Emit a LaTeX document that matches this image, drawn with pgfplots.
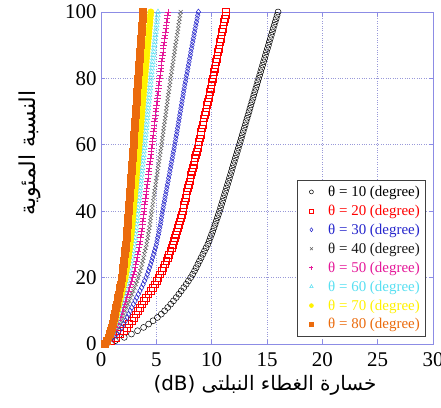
\documentclass[border=0pt]{standalone}
\usepackage{fontspec}
\setmainfont{Liberation Serif}
\newfontfamily\arabicfont[Script=Arabic]{DejaVu Sans}
\TeXXeTstate=1
\usepackage{pgfplots}
\pgfplotsset{compat=1.18}
\usepackage{pgfplotstable}

\definecolor{axc}{rgb}{0.55,0.55,0.9}
\definecolor{gridc}{rgb}{0.6,0.6,0.85}
\definecolor{c10}{rgb}{0,0,0}
\definecolor{c20}{rgb}{1,0,0}
\definecolor{c30}{rgb}{0.15,0.15,0.8}
\definecolor{c40}{rgb}{0.1,0.1,0.1}
\definecolor{c50}{rgb}{0.9,0.1,0.6}
\definecolor{c60}{rgb}{0.35,0.88,0.95}
\definecolor{c70}{rgb}{1,0.95,0}
\definecolor{c80}{rgb}{0.92,0.42,0.05}

\pgfplotstableread{
y   a     b     c     d     e     f     g     h
0   0.50  0.35  0.35  0.35  0.35  0.35  0.35  0.35
1   1.30  0.90  0.77  0.69  0.64  0.59  0.56  0.52
2   2.10  1.34  1.11  0.97  0.86  0.78  0.72  0.66
3   2.75  1.72  1.41  1.21  1.06  0.95  0.87  0.78
4   3.30  2.05  1.66  1.41  1.23  1.09  0.99  0.88
5   3.85  2.32  1.87  1.58  1.38  1.21  1.10  0.97
6   4.30  2.54  2.04  1.72  1.49  1.31  1.18  1.04
7   4.70  2.76  2.21  1.86  1.60  1.41  1.26  1.11
8   5.10  2.98  2.38  1.99  1.72  1.50  1.35  1.18
9   5.45  3.14  2.50  2.10  1.80  1.57  1.41  1.23
10  5.75  3.31  2.63  2.20  1.89  1.65  1.47  1.28
11  6.03  3.50  2.78  2.32  1.99  1.73  1.55  1.34
12  6.30  3.69  2.93  2.44  2.09  1.81  1.62  1.40
13  6.55  3.88  3.08  2.56  2.19  1.90  1.69  1.46
14  6.80  4.07  3.22  2.68  2.29  1.98  1.76  1.52
15  7.03  4.27  3.37  2.80  2.39  2.07  1.84  1.58
16  7.25  4.46  3.52  2.92  2.49  2.15  1.91  1.64
17  7.48  4.65  3.67  3.04  2.59  2.24  1.98  1.70
18  7.70  4.84  3.81  3.16  2.69  2.32  2.05  1.76
19  7.90  5.01  3.94  3.26  2.78  2.39  2.12  1.82
20  8.10  5.17  4.07  3.36  2.86  2.46  2.18  1.87
21  8.28  5.32  4.18  3.45  2.93  2.52  2.23  1.91
22  8.45  5.46  4.28  3.54  3.00  2.58  2.28  1.95
23  8.60  5.62  4.39  3.63  3.07  2.64  2.33  2.00
24  8.75  5.77  4.49  3.71  3.14  2.70  2.38  2.04
25  8.90  5.89  4.58  3.78  3.20  2.75  2.43  2.08
26  9.05  6.00  4.66  3.84  3.26  2.80  2.47  2.11
27  9.20  6.13  4.75  3.91  3.32  2.85  2.51  2.15
28  9.35  6.25  4.83  3.98  3.37  2.89  2.55  2.18
29  9.50  6.37  4.92  4.05  3.43  2.94  2.59  2.22
30  9.65  6.49  5.00  4.12  3.49  2.99  2.63  2.25
31  9.77  6.59  5.06  4.17  3.53  3.03  2.66  2.28
32  9.88  6.69  5.12  4.22  3.57  3.06  2.69  2.30
33  9.99  6.78  5.19  4.27  3.62  3.10  2.73  2.33
34  10.10 6.87  5.25  4.32  3.66  3.13  2.76  2.35
35  10.21 6.96  5.31  4.37  3.70  3.17  2.79  2.38
36  10.31 7.05  5.37  4.42  3.74  3.20  2.82  2.40
37  10.41 7.13  5.42  4.46  3.77  3.23  2.84  2.42
38  10.51 7.20  5.46  4.49  3.80  3.25  2.86  2.44
39  10.61 7.28  5.51  4.54  3.84  3.28  2.89  2.46
40  10.71 7.36  5.56  4.58  3.87  3.31  2.91  2.48
41  10.80 7.43  5.62  4.63  3.91  3.34  2.94  2.50
42  10.89 7.50  5.67  4.67  3.94  3.37  2.96  2.52
43  10.98 7.57  5.73  4.71  3.98  3.41  2.99  2.55
44  11.07 7.64  5.78  4.75  4.02  3.44  3.02  2.57
45  11.16 7.71  5.84  4.80  4.06  3.47  3.05  2.59
46  11.25 7.78  5.89  4.84  4.09  3.50  3.07  2.61
47  11.34 7.86  5.95  4.89  4.13  3.53  3.10  2.64
48  11.43 7.93  6.00  4.93  4.16  3.56  3.13  2.66
49  11.52 8.00  6.06  4.98  4.20  3.59  3.16  2.68
50  11.61 8.07  6.11  5.02  4.24  3.62  3.18  2.70
51  11.70 8.14  6.17  5.07  4.28  3.66  3.21  2.73
52  11.79 8.21  6.22  5.11  4.31  3.69  3.23  2.75
53  11.87 8.28  6.28  5.16  4.35  3.72  3.26  2.77
54  11.96 8.35  6.33  5.20  4.39  3.75  3.29  2.79
55  12.05 8.43  6.39  5.25  4.43  3.78  3.32  2.82
56  12.14 8.50  6.44  5.29  4.46  3.81  3.34  2.84
57  12.23 8.57  6.50  5.34  4.50  3.84  3.37  2.86
58  12.32 8.64  6.55  5.38  4.53  3.87  3.40  2.88
59  12.41 8.71  6.61  5.43  4.57  3.91  3.43  2.91
60  12.50 8.78  6.66  5.47  4.61  3.94  3.45  2.93
61  12.59 8.85  6.71  5.51  4.65  3.97  3.48  2.95
62  12.68 8.91  6.76  5.55  4.68  3.99  3.50  2.97
63  12.76 8.98  6.82  5.59  4.71  4.02  3.53  2.99
64  12.85 9.04  6.87  5.63  4.74  4.05  3.55  3.01
65  12.94 9.11  6.92  5.67  4.78  4.08  3.58  3.03
66  13.03 9.17  6.97  5.71  4.81  4.11  3.60  3.05
67  13.11 9.24  7.02  5.76  4.85  4.14  3.63  3.07
68  13.20 9.31  7.07  5.80  4.88  4.17  3.65  3.09
69  13.29 9.38  7.12  5.84  4.92  4.20  3.68  3.11
70  13.38 9.44  7.17  5.88  4.95  4.22  3.70  3.13
71  13.46 9.51  7.22  5.92  4.99  4.25  3.73  3.16
72  13.55 9.57  7.27  5.96  5.02  4.28  3.75  3.18
73  13.64 9.64  7.32  6.00  5.06  4.31  3.78  3.20
74  13.73 9.70  7.37  6.04  5.09  4.34  3.80  3.22
75  13.81 9.77  7.42  6.08  5.13  4.37  3.83  3.24
76  13.90 9.83  7.47  6.12  5.16  4.40  3.85  3.26
77  13.99 9.90  7.52  6.17  5.19  4.43  3.88  3.28
78  14.08 9.96  7.57  6.21  5.22  4.45  3.90  3.30
79  14.16 10.03 7.63  6.25  5.26  4.48  3.93  3.32
80  14.25 10.09 7.68  6.29  5.29  4.51  3.95  3.34
81  14.34 10.15 7.74  6.34  5.33  4.54  3.98  3.37
82  14.43 10.21 7.79  6.38  5.37  4.57  4.00  3.39
83  14.51 10.27 7.85  6.43  5.41  4.61  4.03  3.41
84  14.60 10.33 7.90  6.47  5.44  4.64  4.06  3.43
85  14.69 10.39 7.96  6.52  5.48  4.67  4.09  3.46
86  14.78 10.44 8.01  6.56  5.51  4.70  4.11  3.48
87  14.86 10.50 8.07  6.61  5.55  4.73  4.14  3.50
88  14.95 10.56 8.12  6.65  5.59  4.76  4.16  3.52
89  15.04 10.62 8.18  6.69  5.63  4.79  4.19  3.55
90  15.13 10.68 8.23  6.73  5.66  4.82  4.22  3.57
91  15.21 10.75 8.29  6.78  5.70  4.86  4.25  3.59
92  15.30 10.81 8.34  6.83  5.74  4.89  4.28  3.61
93  15.39 10.87 8.40  6.88  5.78  4.92  4.31  3.64
94  15.48 10.93 8.45  6.92  5.82  4.95  4.33  3.66
95  15.56 10.99 8.51  6.97  5.86  4.99  4.36  3.69
96  15.65 11.05 8.57  7.01  5.90  5.02  4.39  3.71
97  15.74 11.11 8.63  7.06  5.94  5.05  4.42  3.73
98  15.83 11.17 8.68  7.10  5.97  5.08  4.44  3.75
99  15.91 11.24 8.74  7.15  6.01  5.12  4.47  3.78
100 16.00 11.30 8.80  7.20  6.05  5.15  4.50  3.80
}\curves

\begin{document}
\begin{tikzpicture}
\useasboundingbox (-101bp,-64bp) rectangle (340bp,344bp);
\begin{axis}[
  name=ax,
  at={(0,0)}, anchor=south west,
  scale only axis, width=332bp, height=332bp,
  xmin=0, xmax=30, ymin=0, ymax=100,
  xtick={0,5,...,30}, ytick={0,20,...,100},
  tick align=inside, major tick length=4bp,
  axis line style={color=axc, line width=0.7pt},
  tick style={color=axc, line width=0.7pt},
  grid=major,
  major grid style={dotted, color=gridc, line width=0.7pt},
  /pgf/number format/assume math mode=true,
  ticklabel style={font=\fontsize{21}{23}\selectfont},
  xticklabel style={yshift=-5bp},
  yticklabel style={xshift=-1bp},
  legend style={font=\fontsize{15}{17}\selectfont, draw=black!75, line width=0.9pt,
    at={(0.978,0.494)}, anchor=north east, row sep=4bp, inner xsep=4bp, inner ysep=4bp,
    fill=white, nodes={inner sep=1.5bp}},
  legend cell align=left,
  legend image code/.code={%
    \draw[mark repeat=1, mark phase=1, #1, only marks, mark size=2pt] plot coordinates {(10bp,0bp)};
    \path (0bp,0bp) (25bp,0bp);},
  only marks,
]
\addplot[c10, mark=o, mark size=3pt, line width=0.5pt] table[x=a, y=y] {\curves};
\addlegendentry{\textcolor{c10}{θ = 10 (degree)}}
\addplot[c20, mark=square, mark size=3.4pt, line width=0.45pt] table[x=b, y=y] {\curves};
\addlegendentry{\textcolor{c20}{θ = 20 (degree)}}
\addplot[c30, mark=diamond, mark size=3pt, line width=0.5pt] table[x=c, y=y] {\curves};
\addlegendentry{\textcolor{c30}{θ = 30 (degree)}}
\addplot[c40!70, mark=x, mark size=2.8pt, line width=0.5pt] table[x=d, y=y] {\curves};
\addlegendentry{\textcolor{c40}{θ = 40 (degree)}}
\addplot[c50, mark=+, mark size=3.2pt, line width=0.6pt] table[x=e, y=y] {\curves};
\addlegendentry{\textcolor{c50}{θ = 50 (degree)}}
\addplot[c60, mark=triangle, mark size=3pt, line width=0.5pt] table[x=f, y=y] {\curves};
\addlegendentry{\textcolor{c60}{θ = 60 (degree)}}
\addplot[c70, mark=*, mark size=3.2pt, line width=0.5pt] table[x=g, y=y] {\curves};
\addlegendentry{\textcolor{c70}{θ = 70 (degree)}}
\addplot[c80, mark=square*, mark size=3.4pt, line width=0.5pt] table[x=h, y=y] {\curves};
\addlegendentry{\textcolor{c80}{θ = 80 (degree)}}
\end{axis}
\node[font=\arabicfont\fontsize{20}{24}\selectfont] at ([xshift=-2bp, yshift=-41bp]ax.south)
  {\beginR خسارة الغطاء النبلتى \beginL(dB)\endL\endR};
\path (ax.south west) ++(-71bp,191bp) node[rotate=90, font=\arabicfont\fontsize{22}{26}\selectfont]
  {\beginR النسبة المئوية\endR};
\end{tikzpicture}
\end{document}
